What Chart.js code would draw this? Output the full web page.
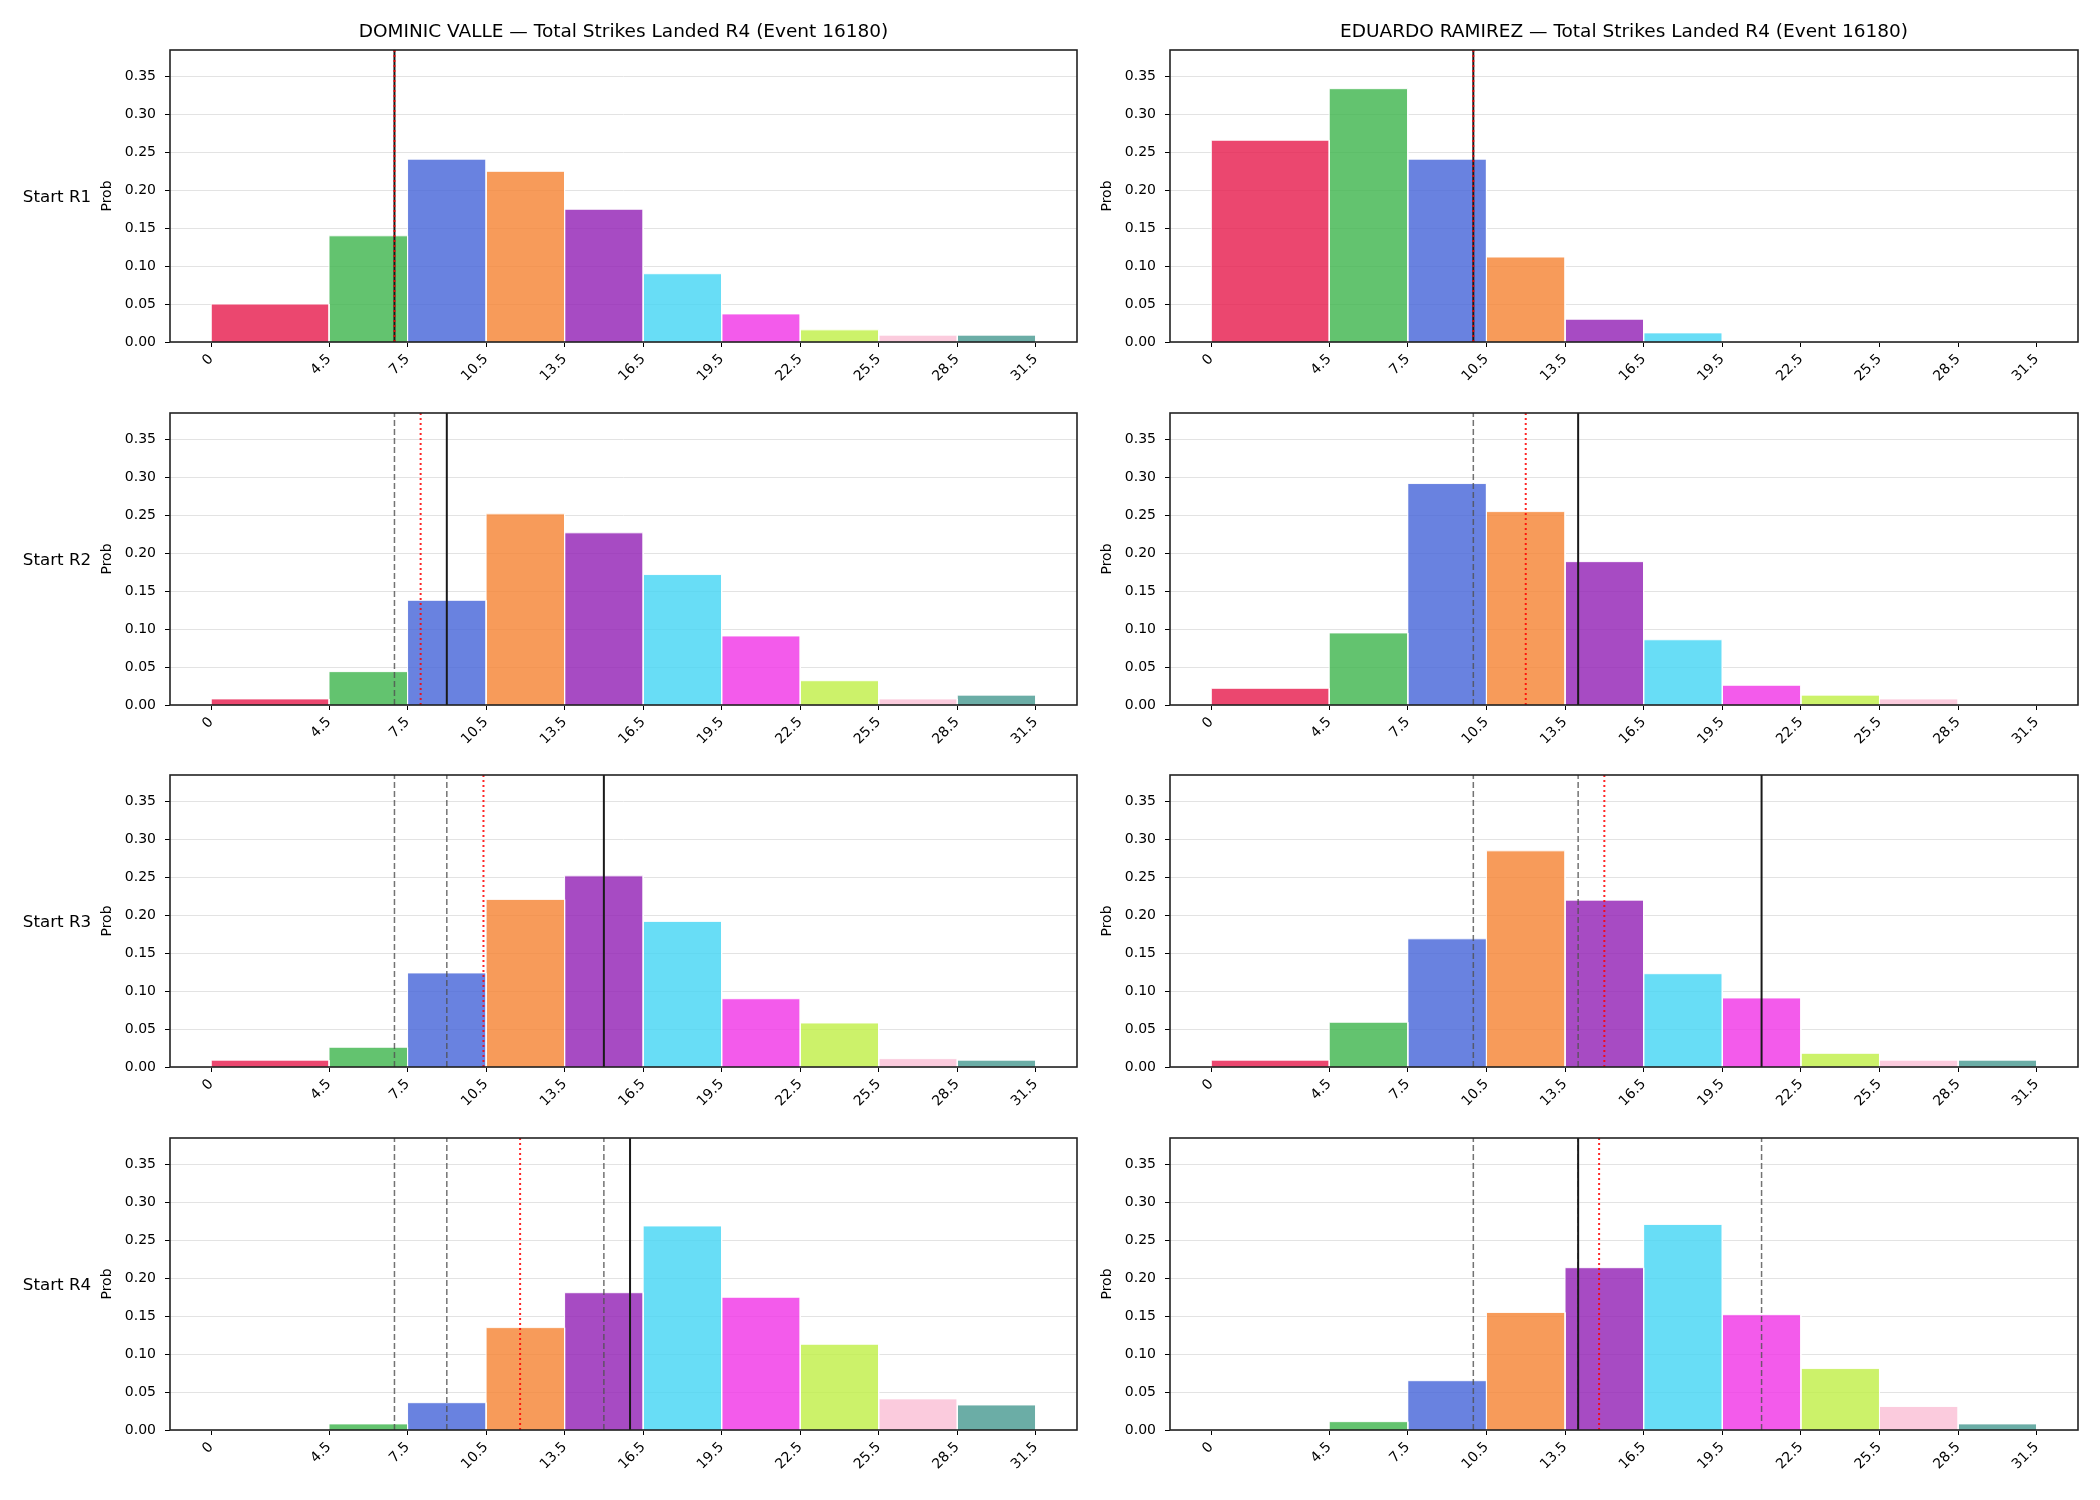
<!DOCTYPE html>
<html>
<head>
<meta charset="utf-8">
<script src="https://cdn.jsdelivr.net/npm/chart.js@4.4.0/dist/chart.umd.min.js"></script>
<style>
  body { margin: 0; background: #fff; }
  #page { position: relative; width: 2100px; height: 1500px; font-family: 'DejaVu Sans', sans-serif; }
  .panel { position: absolute; }
  .rowlabel { position: absolute; left: 0; width: 114px; text-align: center; font-size: 16.7px; line-height: 20px; color: #000; }
</style>
</head>
<body>
<div id="page"></div>
<script>
// histogram bins and axes
const binEdges = [0, 4.5, 7.5, 10.5, 13.5, 16.5, 19.5, 22.5, 25.5, 28.5, 31.5];
const xTickLabels = ['0', '4.5', '7.5', '10.5', '13.5', '16.5', '19.5', '22.5', '25.5', '28.5', '31.5'];
const yTicks = [0, 0.05, 0.10, 0.15, 0.20, 0.25, 0.30, 0.35];
const binColors = ['#e6194b', '#3cb44b', '#4363d8', '#f58231', '#911eb4',
                   '#42d4f4', '#f032e6', '#bfef45', '#fabed4', '#469990'];

const fighters = ['DOMINIC VALLE', 'EDUARDO RAMIREZ'];
const rowLabels = ['Start R1', 'Start R2', 'Start R3', 'Start R4'];

// probabilities per bin
const valleR1 = [0.050, 0.140, 0.241, 0.225, 0.175, 0.090, 0.037, 0.016, 0.009, 0.009];
const valleR2 = [0.008, 0.044, 0.138, 0.252, 0.227, 0.172, 0.091, 0.032, 0.008, 0.013];
const valleR3 = [0.009, 0.026, 0.124, 0.221, 0.252, 0.192, 0.090, 0.058, 0.011, 0.009];
const valleR4 = [0.000, 0.008, 0.036, 0.135, 0.181, 0.269, 0.175, 0.113, 0.041, 0.033];
const ramirezR1 = [0.266, 0.334, 0.241, 0.112, 0.030, 0.012, 0, 0, 0, 0];
const ramirezR2 = [0.022, 0.095, 0.292, 0.255, 0.189, 0.086, 0.026, 0.013, 0.008, 0];
const ramirezR3 = [0.009, 0.059, 0.169, 0.285, 0.220, 0.123, 0.091, 0.018, 0.009, 0.009];
const ramirezR4 = [0.000, 0.011, 0.065, 0.155, 0.214, 0.271, 0.152, 0.081, 0.031, 0.008];

// marker lines (x positions)
const valleSolid = [7, 9, 15, 16];
const valleDotted = [7, 8, 10.4, 11.8];
const valleDashed = [[], [7], [7, 9], [7, 9, 15]];
const ramirezSolid = [10, 14, 21, 14];
const ramirezDotted = [10, 12, 15, 14.8];
const ramirezDashed = [[], [10], [10, 14], [10, 14, 21]];

const probs = [[valleR1, valleR2, valleR3, valleR4], [ramirezR1, ramirezR2, ramirezR3, ramirezR4]];
const solids = [valleSolid, ramirezSolid];
const dotteds = [valleDotted, ramirezDotted];
const dasheds = [valleDashed, ramirezDashed];

const Y_MAX = 0.385;
const rowTop = [50, 413, 775, 1138];
const AX_H = 292;
const X_AXIS_H = 60;

Chart.defaults.font.family = "'DejaVu Sans', sans-serif";
Chart.defaults.color = '#000';

function alpha(hex, a) {
  const n = parseInt(hex.slice(1), 16);
  return `rgba(${(n >> 16) & 255},${(n >> 8) & 255},${n & 255},${a})`;
}

const spines = {
  id: 'spines',
  afterDatasetsDraw(chart) {
    const { ctx, chartArea: a } = chart;
    ctx.save();
    ctx.strokeStyle = '#222';
    ctx.lineWidth = 1.6;
    ctx.strokeRect(a.left, a.top, a.right - a.left, a.bottom - a.top);
    ctx.restore();
  }
};

function vline(x, style) {
  return Object.assign({
    type: 'line',
    data: [{ x: x, y: 0 }, { x: x, y: Y_MAX }],
    pointRadius: 0,
    fill: false
  }, style);
}

function makePanel(col, row) {
  const page = document.getElementById('page');
  const top = row === 0 ? 0 : rowTop[row] - 10;
  const height = (row === 0 ? 50 : 10) + AX_H + X_AXIS_H;
  const div = document.createElement('div');
  div.className = 'panel';
  div.style.left = (col * 1000) + 'px';
  div.style.top = top + 'px';
  const canvas = document.createElement('canvas');
  canvas.width = 1100;
  canvas.height = height;
  div.appendChild(canvas);
  page.appendChild(div);

  const vals = probs[col][row];
  const datasets = vals.map((p, i) => ({
    type: 'line',
    data: [
      { x: binEdges[i], y: 0 }, { x: binEdges[i], y: p },
      { x: binEdges[i + 1], y: p }, { x: binEdges[i + 1], y: 0 }
    ],
    backgroundColor: alpha(binColors[i], 0.8),
    borderColor: 'rgba(255,255,255,0.9)',
    borderWidth: 1,
    pointRadius: 0,
    tension: 0,
    fill: 'origin',
    order: 10
  }));

  dasheds[col][row].forEach(x => datasets.push(vline(x, {
    borderColor: 'rgba(80,80,80,0.8)', borderWidth: 1.5, borderDash: [6, 3], order: 3
  })));
  datasets.push(vline(solids[col][row], { borderColor: '#1a1a1a', borderWidth: 2, order: 2 }));
  datasets.push(vline(dotteds[col][row], {
    borderColor: 'rgba(255,0,0,0.85)', borderWidth: 2, borderDash: [2, 3], order: 1
  }));

  new Chart(canvas, {
    type: 'line',
    data: { datasets: datasets },
    options: {
      responsive: false,
      animation: false,
      events: [],
      layout: { padding: { left: 0, right: col === 0 ? 23 : 22, top: row === 0 ? 0 : 10, bottom: 0 } },
      plugins: {
        legend: { display: false },
        tooltip: { enabled: false },
        title: {
          display: row === 0,
          text: fighters[col] + ' \u2014 Total Strikes Landed R4 (Event 16180)',
          font: { size: 18.5, weight: 'normal' },
          color: '#000',
          fullSize: false,
          padding: { top: 20.9, bottom: 6.9 }
        }
      },
      scales: {
        x: {
          type: 'linear',
          min: -1.575,
          max: 33.075,
          afterBuildTicks: s => { s.ticks = binEdges.map(v => ({ value: v })); },
          afterFit: s => { s.height = X_AXIS_H; s.paddingLeft = 0; s.paddingRight = 0; },
          ticks: {
            autoSkip: false, minRotation: 45, maxRotation: 45, padding: 4,
            font: { size: 14 }, color: '#000',
            callback: (v, i) => xTickLabels[i]
          },
          grid: { drawOnChartArea: false, drawTicks: true, tickLength: 5, tickColor: '#000', tickWidth: 1 },
          border: { display: false }
        },
        y: {
          min: 0,
          max: Y_MAX,
          afterBuildTicks: s => { s.ticks = yTicks.map(v => ({ value: v })); },
          afterFit: s => { s.width = 170; s.paddingTop = 0; s.paddingBottom = 0; },
          ticks: { padding: 9, font: { size: 14 }, color: '#000', callback: v => v.toFixed(2) },
          grid: { color: '#e3e3e3', lineWidth: 1, drawTicks: true, tickLength: 5, tickColor: '#000', tickWidth: 1 },
          border: { display: false },
          title: { display: true, text: 'Prob', font: { size: 14 }, color: '#000', padding: { top: 99, bottom: 0 } }
        }
      }
    },
    plugins: [spines]
  });
}

for (let col = 0; col < 2; col++) {
  for (let row = 0; row < 4; row++) makePanel(col, row);
}

rowLabels.forEach((t, r) => {
  const d = document.createElement('div');
  d.className = 'rowlabel';
  d.style.top = (rowTop[r] + AX_H / 2 - 10) + 'px';
  d.textContent = t;
  document.getElementById('page').appendChild(d);
});
</script>
</body>
</html>
